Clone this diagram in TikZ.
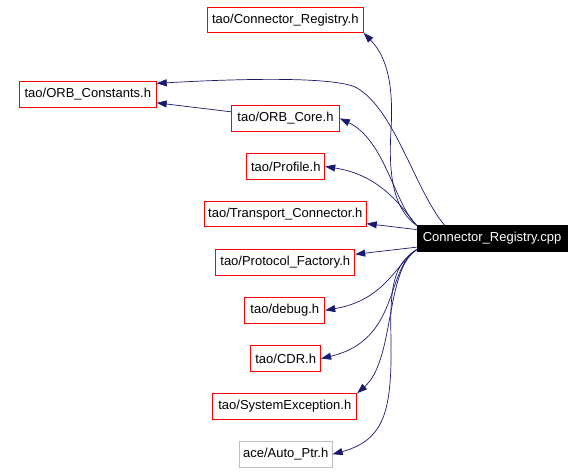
\documentclass[tikz,border=0pt]{standalone}
\usepackage{fontspec}
\setmainfont{Liberation Sans}
\usetikzlibrary{arrows.meta}
\definecolor{incblue}{RGB}{25,25,112}
\definecolor{boxred}{RGB}{255,0,0}
\definecolor{boxgray}{RGB}{191,191,191}

\begin{document}
\begin{tikzpicture}[x=1pt,y=-1pt,
  file/.style={draw=boxred,line width=0.8pt,minimum height=25.5pt,inner sep=0pt,font=\fontsize{13}{15}\selectfont},
  inc/.style={draw=incblue,line width=0.7pt,-{Triangle[length=10pt,width=7pt]}}]
\useasboundingbox (0,0) rectangle (584,472);

\node (reg_h) at (285.3,19.8) [file,minimum width=156pt]{tao/Connector\_Registry.h};
\node (orb_const) at (87.8,94.5) [file,minimum width=137pt]{tao/ORB\_Constants.h};
\node (orb_core) at (285.5,118.4) [file,minimum width=108pt]{tao/ORB\_Core.h};
\node (profile) at (285.8,166.5) [file,minimum width=78pt]{tao/Profile.h};
\node (transport) at (285.3,214) [file,minimum width=162pt]{tao/Transport\_Connector.h};
\node (cpp) at (492,238.5) [file,draw=black,fill=black,text=white,minimum width=150pt]{Connector\_Registry.cpp};
\node (pf) at (285.3,262.3) [file,minimum width=139pt]{tao/Protocol\_Factory.h};
\node (debug) at (284.8,310.3) [file,minimum width=80pt]{tao/debug.h};
\node (cdr) at (285.7,358.5) [file,minimum width=70pt]{tao/CDR.h};
\node (sysex) at (284.8,406.3) [file,minimum width=144pt]{tao/SystemException.h};
\node (auto) at (285.7,454.2) [file,draw=boxgray,minimum width=93pt]{ace/Auto\_Ptr.h};

\draw[inc] (cpp.north west) .. controls (395,210) and (388,180) .. (391,130) .. controls (394,80) and (385,55) .. (reg_h.south east);
\draw[inc] ([xshift=28pt]cpp.north west) .. controls (415,190) and (395,110) .. (357,88) .. controls (338,77) and (250,78) .. ([yshift=-2pt]orb_const.north east);
\draw[inc] (orb_core) -- (orb_const);
\draw[inc] (cpp.north west) .. controls (395,205) and (385,140) .. (orb_core.east);
\draw[inc] (cpp.north west) .. controls (400,205) and (380,175) .. (profile.east);
\draw[inc] (cpp) -- (transport);
\draw[inc] (cpp) -- (pf);
\draw[inc] ([yshift=2pt]cpp.south west) .. controls (395,265) and (385,300) .. (debug.east);
\draw[inc] ([yshift=2pt]cpp.south west) .. controls (385,270) and (400,340) .. (cdr.east);
\draw[inc] ([yshift=2pt]cpp.south west) .. controls (385,270) and (395,360) .. (sysex.north east);
\draw[inc] ([yshift=2pt]cpp.south west) .. controls (392,265) and (390,290) .. (391,340) .. controls (392,410) and (385,440) .. (auto.east);

\end{tikzpicture}
\end{document}
